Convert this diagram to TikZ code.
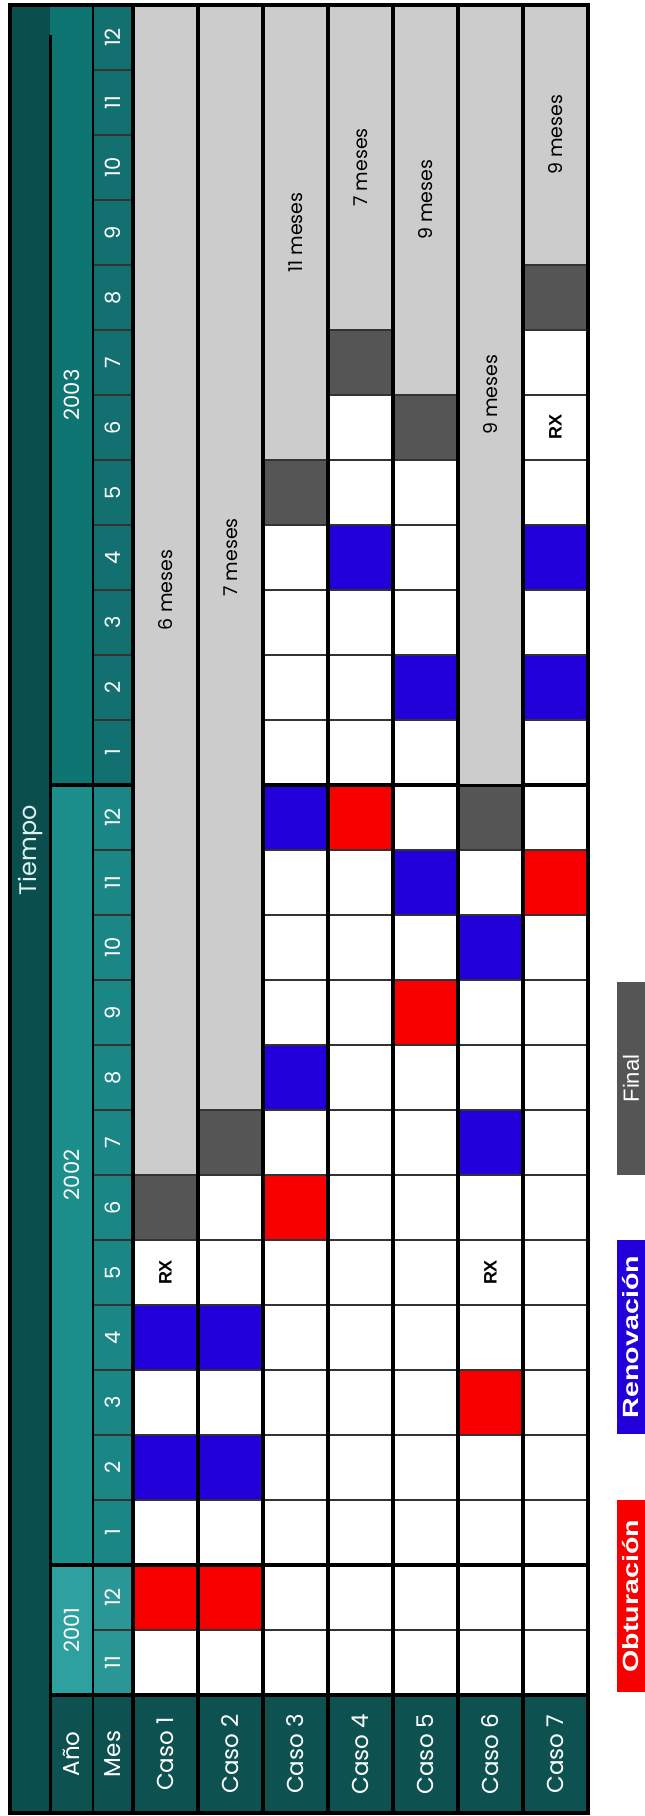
\documentclass[tikz,border=0pt]{standalone}
\usepackage{fontspec}
\setsansfont{Poppins}
\newfontfamily\arialfont{Liberation Sans}
\renewcommand{\familydefault}{\sfdefault}

\definecolor{tiempoteal}{HTML}{0B4E4E}
\definecolor{hdrteal}{HTML}{0D5150}
\definecolor{anoA}{HTML}{2FA0A0}
\definecolor{anoB}{HTML}{1C8E8C}
\definecolor{anoC}{HTML}{0E7573}
\definecolor{mesA}{HTML}{2A9696}
\definecolor{mesB}{HTML}{1B8686}
\definecolor{mesC}{HTML}{127070}
\definecolor{obtred}{HTML}{F80000}
\definecolor{renblue}{HTML}{2200DA}
\definecolor{finalgray}{HTML}{555555}
\definecolor{restgray}{HTML}{CCCCCC}

\begin{document}
\begin{tikzpicture}[x=1pt, y=1pt,
  cellline/.style={draw=black!80, line width=1.6pt},
  yearline/.style={draw=black, line width=4pt},
  colline/.style={draw=black, line width=4pt},
  hdrtext/.style={text=white, font=\fontsize{23}{25}\selectfont, rotate=90},
  numtext/.style={text=white, font=\fontsize{21}{23}\selectfont, rotate=90},
  mesestext/.style={text=black, font=\fontsize{19}{21}\selectfont, rotate=90},
  rxtext/.style={text=black, font=\arialfont\bfseries\fontsize{18}{20}\selectfont, rotate=90},
  legendbox/.style={rotate=90, inner sep=0pt, minimum height=28pt, text=white,
    font=\arialfont\bfseries\fontsize{22}{24}\selectfont}]
  \useasboundingbox (0,0) rectangle (645,1816);

  % Tiempo / Año / Mes columns
  \fill[tiempoteal] (10,3) rectangle (50,1811);
  \fill[anoA] (50,121) rectangle (93,251);
  \fill[anoB] (50,251) rectangle (93,1031);
  \fill[anoC] (50,1031) rectangle (93,1811);
  \fill[mesA] (93,121) rectangle (133,251);
  \fill[mesB] (93,251) rectangle (133,1031);
  \fill[mesC] (93,1031) rectangle (133,1811);
  \fill[hdrteal] (50,3) rectangle (588,121);
  \fill[white] (133,121) rectangle (588,1811);

  % Obturacion / Renovacion / Final cells (caso/mes)
  \foreach \c/\m in {1/1,2/1,3/7,6/4,5/10,7/12,4/13}
    \fill[obtred] (133+65*\c-65,121+65*\m) rectangle ++(65,65);
  \foreach \c/\m in {1/3,1/5,2/3,2/5,3/9,3/13,6/8,6/11,5/12,5/15,7/15,4/17,7/17}
    \fill[renblue] (133+65*\c-65,121+65*\m) rectangle ++(65,65);
  \foreach \c/\m in {1/7,2/8,6/13,3/18,5/19,4/20,7/21}
    \fill[finalgray] (133+65*\c-65,121+65*\m) rectangle ++(65,65);

  % month lines and year lines
  \foreach \m in {1,...,25}
    \draw[cellline] (93,121+65*\m) -- (588,121+65*\m);
  \foreach \m in {2,14}
    \draw[yearline] (50,121+65*\m) -- (588,121+65*\m);

  % remaining time after the final cell
  \foreach \c/\f/\t in {1/8/6 meses,2/9/7 meses,3/19/11 meses,4/21/7 meses,5/20/9 meses,6/14/9 meses,7/22/9 meses} {
    \fill[restgray] (133+65*\c-65,122+65*\f) rectangle (133+65*\c,1811);
    \path (133+65*\c-65,121+65*\f) -- (133+65*\c,1811)
      node[midway, mesestext] (meses\c) {\t};
  }

  % column separators and frame
  \foreach \k in {0,...,7}
    \draw[colline] (133+65*\k,3) -- (133+65*\k,1811);
  \draw[colline, line width=3pt] (50,3) -- (50,1781);
  \draw[colline, line width=2.5pt] (93,3) -- (93,1811);
  \draw[colline] (50,121) -- (588,121);
  \draw[colline] (10,3) rectangle (588,1811);

  % header texts
  \node[hdrtext, text=white!88!teal, font=\fontsize{24}{26}\selectfont] (tiempo) at (30,966) {Tiempo};
  \node[numtext] (y2001) at (71.5,186) {2001};
  \node[numtext] (y2002) at (71.5,641) {2002};
  \node[numtext] (y2003) at (71.5,1421) {2003};
  \foreach \m [evaluate=\m as \lab using {int(mod(\m+10,12)+1)}] in {0,...,25}
    \node[numtext] (mes\m) at (113,153.5+65*\m) {\lab};
  \node[hdrtext] (hano) at (71.5,62) {Año};
  \node[hdrtext] (hmes) at (113,62) {Mes};
  \foreach \c in {1,...,7}
    \node[hdrtext] (caso\c) at (100.5+65*\c,62) {Caso \c};

  % RX marks
  \foreach \c/\m in {1/6,6/6,7/19}
    \node[rxtext] (rx\c) at (100.5+65*\c,153.5+65*\m) {RX};

  % legend
  \node[legendbox, fill=obtred, minimum width=192pt] (obt) at (631,220) {\scalebox{1.3}[1]{Obturación}};
  \node[legendbox, fill=renblue, minimum width=194pt] (ren) at (631,479) {\scalebox{1.3}[1]{Renovación}};
  \node[legendbox, fill=finalgray, minimum width=193pt, font=\arialfont\fontsize{22}{24}\selectfont] (fin) at (631,737.5) {Final};
\end{tikzpicture}
\end{document}
